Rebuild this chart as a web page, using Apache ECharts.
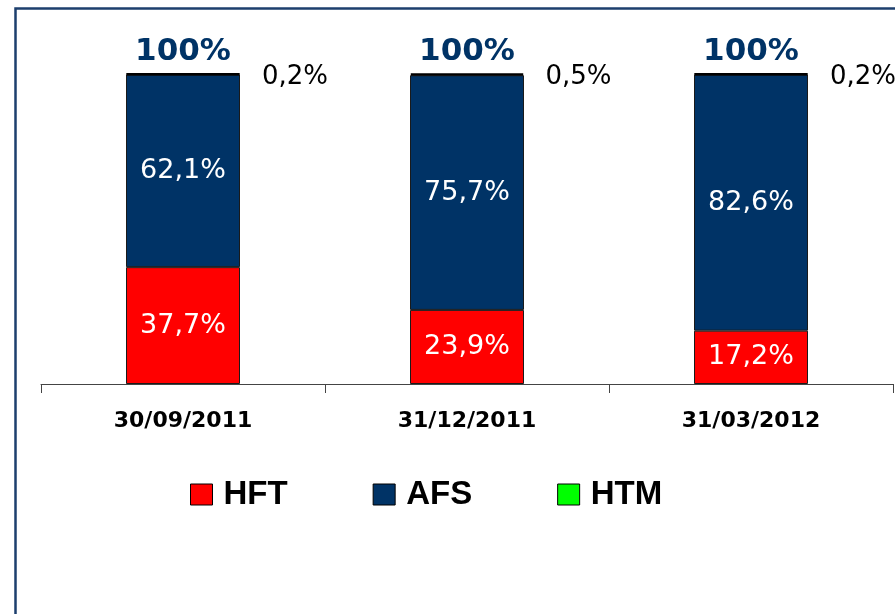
<!DOCTYPE html>
<html>
<head>
<meta charset="utf-8">
<script src="https://cdn.jsdelivr.net/npm/echarts@6/dist/echarts.min.js"></script>
<style>
html,body{margin:0;padding:0;background:#fff;}
#chart{width:895px;height:614px;}
</style>
</head>
<body>
<div id="chart"></div>
<script>
var categories = ['30/09/2011', '31/12/2011', '31/03/2012'];
var hftValues = [37.7, 23.9, 17.2];
var afsValues = [62.1, 75.7, 82.6];
var htmValues = [0.2, 0.5, 0.2];
var totalValues = [100, 100, 100];
var seriesNames = ['HFT', 'AFS', 'HTM'];

function pct(v) { return String(v).replace('.', ',') + '%'; }

var chart = echarts.init(document.getElementById('chart'), null, {renderer: 'canvas'});
var border = {borderColor: '#1a1a1a', borderWidth: 1};
chart.setOption({
  animation: false,
  backgroundColor: '#ffffff',
  graphic: [{
    type: 'rect',
    shape: {x: 15.5, y: 8.5, width: 1000, height: 1000},
    style: {fill: 'none', stroke: '#1d3f6e', lineWidth: 2.5},
    silent: true, z: -10
  }],
  grid: {left: 41, right: 2, top: 43, bottom: 230},
  legend: {
    data: seriesNames,
    left: 185, top: 473,
    icon: 'rect',
    itemWidth: 22, itemHeight: 21,
    itemGap: 85,
    itemStyle: {borderColor: '#000', borderWidth: 1},
    textStyle: {fontFamily: 'Liberation Sans', fontWeight: 'bold', fontSize: 33, color: '#000', padding: [0, 0, 0, 6]}
  },
  xAxis: {
    type: 'category',
    data: categories,
    boundaryGap: true,
    axisLine: {lineStyle: {color: '#444', width: 1}},
    axisTick: {show: true, length: 9, lineStyle: {color: '#444', width: 1}},
    axisLabel: {fontFamily: 'DejaVu Sans', fontWeight: 'bold', fontSize: 22, color: '#000', margin: 26}
  },
  yAxis: {type: 'value', min: 0, max: 110, show: false, splitLine: {show: false}},
  series: [
    {
      name: 'HFT', type: 'bar', stack: 'a', barWidth: 114,
      data: hftValues,
      itemStyle: Object.assign({color: '#ff0000'}, border),
      label: {show: true, position: 'inside', color: '#fff', fontFamily: 'DejaVu Sans', fontSize: 27,
        formatter: function (p) { return pct(p.value); }}
    },
    {
      name: 'AFS', type: 'bar', stack: 'a', barWidth: 114,
      data: afsValues,
      itemStyle: Object.assign({color: '#003366'}, border),
      label: {show: true, position: 'inside', color: '#fff', fontFamily: 'DejaVu Sans', fontSize: 27,
        formatter: function (p) { return pct(p.value); }}
    },
    {
      name: 'HTM', type: 'bar', stack: 'a', barWidth: 114,
      data: htmValues,
      itemStyle: {color: '#00ff00', borderColor: '#000', borderWidth: 2.5},
      label: {show: true, position: 'right', distance: 21, offset: [0, 3], color: '#000', fontFamily: 'DejaVu Sans', fontSize: 26,
        formatter: function (p) { return pct(p.value); }}
    },
    {
      name: 'Total', type: 'scatter', symbolSize: 0,
      data: totalValues,
      silent: true,
      itemStyle: {opacity: 1},
      label: {show: true, position: 'top', distance: 7, color: '#003366', fontFamily: 'DejaVu Sans', fontWeight: 'bold',
        fontSize: 31, lineHeight: 31,
        formatter: function (p) { return p.value + '%'; }}
    }
  ]
});
</script>
</body>
</html>
